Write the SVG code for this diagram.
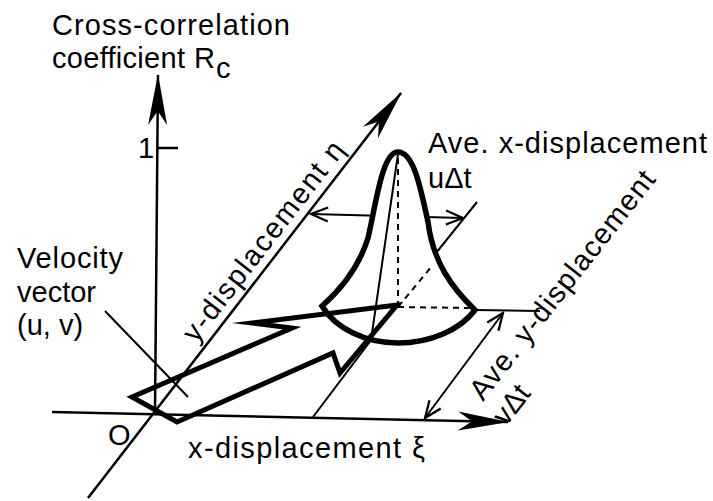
<svg xmlns="http://www.w3.org/2000/svg" width="713" height="501" viewBox="0 0 713 501">
<defs>
<style>
 text{font-family:"Liberation Sans",Arial,Helvetica,sans-serif;font-size:29px;fill:#000}
 .ax{stroke:#000;stroke-width:2.5;fill:none}
 .thin{stroke:#000;stroke-width:2;fill:none}
 .dash{stroke:#000;stroke-width:2;fill:none;stroke-dasharray:6 5}
 .thick{stroke:#000;stroke-width:5;fill:none;stroke-linejoin:miter;stroke-miterlimit:10}
 .bell{stroke:#000;stroke-width:5.5;fill:#fff;stroke-linejoin:miter;stroke-miterlimit:10}
</style>
<marker id="big" markerUnits="userSpaceOnUse" viewBox="-52 -11 54 22" refX="0" refY="0" markerWidth="54" markerHeight="22" orient="auto">
 <path d="M1,0 L-50,-9.5 L-36,0 L-50,9.5 Z" fill="#000"/>
</marker>
<marker id="chev" markerUnits="userSpaceOnUse" viewBox="-20 -10 22 20" refX="0" refY="0" markerWidth="22" markerHeight="20" orient="auto-start-reverse">
 <path d="M-17,-7 L0,0 L-17,7" fill="none" stroke="#000" stroke-width="2.3"/>
</marker>
</defs>
<rect width="713" height="501" fill="#fff"/>

<g id="axes">
 <line class="ax" x1="155" y1="413" x2="158" y2="75" marker-end="url(#big)"/>
 <line class="ax" x1="158" y1="148" x2="178" y2="148" stroke-width="3"/>
 <line class="ax" x1="52" y1="412" x2="508" y2="422" marker-end="url(#big)"/>
 <line class="ax" x1="88" y1="498" x2="401" y2="93" marker-end="url(#big)"/>
</g>

<g id="connectors">
 <line class="thin" x1="311" y1="214" x2="463" y2="218" marker-start="url(#chev)" marker-end="url(#chev)"/>
</g>

<g id="peak">
 <path class="bell" d="M322,306 C338,292 358,270 368,238 C376,204 382,152 398,152 C414,152 421,190 428,222 C433,262 452,288 475,310 C460,330 430,343 398,343 C365,343 335,328 322,306 Z"/>
 <line class="dash" x1="398" y1="158" x2="398" y2="305"/>
 <line class="dash" x1="398" y1="307" x2="470" y2="308"/>
 <line class="dash" x1="398" y1="307" x2="432" y2="266"/>
 <polyline class="thin" points="313,417 371,340 398,154"/>
 <line class="thin" x1="436" y1="253" x2="477" y2="202"/>
 <line class="thin" x1="475" y1="310" x2="540" y2="311"/>
 <line class="thin" x1="425" y1="418" x2="503" y2="313" marker-start="url(#chev)" marker-end="url(#chev)"/>
</g>

<g id="velocity-vector">
 <polygon class="thick" points="132,397 292,328 252,323 397,305 340,373 333,353 177,422"/>
 <line class="thin" x1="105" y1="311" x2="188" y2="397"/>
</g>

<g id="labels">
 <text x="52" y="35" textLength="238" lengthAdjust="spacing">Cross-correlation</text>
 <text x="52" y="68" textLength="133" lengthAdjust="spacing">coefficient</text>
 <text x="194" y="68">R</text>
 <text x="216" y="78">c</text>
 <text x="138" y="158" font-size="26">1</text>
 <text x="17" y="268" textLength="106" lengthAdjust="spacing">Velocity</text>
 <text x="17" y="302">vector</text>
 <text x="17" y="335">(u, v)</text>
 <text x="108" y="445">O</text>
 <text x="188" y="458" textLength="237" lengthAdjust="spacing">x-displacement ξ</text>
 <text x="428" y="153" textLength="279" lengthAdjust="spacing">Ave. x-displacement</text>
 <text x="428" y="188">uΔt</text>
 <text transform="translate(196,344) rotate(-52.3)" textLength="245" lengthAdjust="spacing">y-displacement η</text>
 <text transform="translate(483,402) rotate(-52)" textLength="282" lengthAdjust="spacing">Ave. y-displacement</text>
 <text transform="translate(506,427) rotate(-52)">vΔt</text>
</g>
</svg>
